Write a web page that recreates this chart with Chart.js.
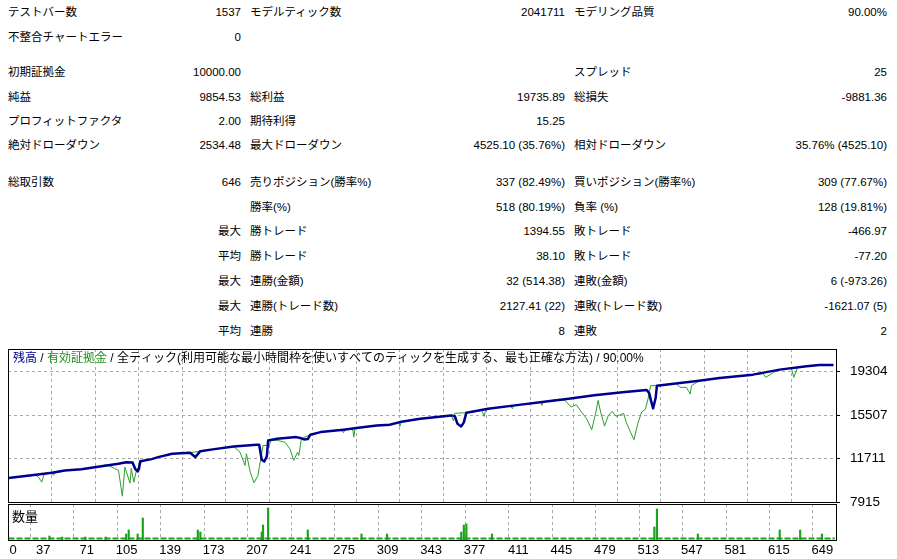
<!DOCTYPE html>
<html>
<head>
<meta charset="utf-8">
<title>Strategy Tester Report</title>
<script src="https://cdn.jsdelivr.net/npm/chart.js@4.4.1/dist/chart.umd.min.js"></script>
<style>
    body{margin:0;background:#fff;width:897px;height:559px;overflow:hidden;position:relative;
        font-family:"Liberation Sans","Noto Sans CJK JP",sans-serif;font-size:11.5px;color:#000;}
    .c{position:absolute;height:16px;line-height:16px;white-space:nowrap;}
    #main{position:absolute;left:0;top:345px;}
    #vol{position:absolute;left:0;top:503px;}
</style>
</head>
<body>
<div id="stats"></div>
<canvas id="main" width="897" height="165"></canvas>
<canvas id="vol" width="897" height="56"></canvas>
<script>
// 残高 (balance) - trade number / value
const balTrade = [3,26,37,47,60,73,89,95,100,102,104,105,106,115,120,131,145,149,153,164,
    179,197,199,201,203,205,206,213,228,231,234,237,239,247,265,275,291,301,309,325,
    349,352,354,357,359,361,378,399,425,441,461,485,502,504,505,507,509,510,528,543,
    559,585,606,627,637,648];
const balance = [10000,10315,10463,10664,10777,10987,11249,11388,11360,10810,10575,10810,11460,11650,11825,12121,12209,11825,12348,12523,
    12758,12907,12907,11600,11449,11900,13282,13431,13570,13500,13369,13400,13780,14006,14216,14356,14591,14652,14879,15176,
    15464,15400,14740,14504,14850,15699,16049,16337,16686,16921,17209,17497,17672,17400,16900,16075,17000,18056,18283,18492,
    18719,19016,19452,19740,19854,19854];

// 有効証拠金 (equity)
const eqTrade = [3,24,27,29,31,37,38,40,47,60,73,79,81,86,89,92,94,98,99,101,103,107,110,115,120,
    131,145,153,164,179,184,188,189,192,195,198,200,202,207,208,213,219,223,226,229,230,232,239,247,263,
    265,266,272,273,274,291,301,308,309,310,325,349,351,352,361,373,375,376,378,395,397,398,419,420,421,
    434,438,443,447,451,455,459,462,464,466,469,472,475,478,481,484,486,492,495,498,501,503,505,510,525,
    528,533,536,537,543,559,585,593,595,601,606,615,617,620,627,637,648];
const equity = [10000,10300,10000,9643,10380,10463,10250,10480,10664,10777,10987,11150,11100,10839,10664,8421,10952,9556,10839,9643,10664,11388,11560,11650,11825,
    12121,12209,12348,12523,12758,12261,11100,12121,10516,9591,10228,11537,12846,12846,13300,13282,13133,12558,11537,12261,11973,13431,13780,14006,14200,
    13954,14230,14330,13570,14356,14591,14652,14850,14504,14879,15176,15464,14984,15650,15699,15900,15376,15980,16049,16300,16049,16330,16640,16337,16660,
    16870,16773,16188,16397,15752,15176,14216,15612,16773,15752,14530,15464,15813,15376,15500,15638,14853,13343,14731,15752,16014,16887,18056,18056,18250,
    17907,17907,17323,18056,18492,18719,19016,19100,18780,19200,19452,19600,18780,19650,19740,19854,19854];

// 数量 (volume) spikes, relative units
const volTrade = [35,45,63,79,95,97,104,108,151,153,201,202,206,237,279,299,357,359,361,381,508,510,542,606,622,639];
const volume = [2,1.5,1.5,1.5,3,5,3,11,5,4,4,7.5,16,5,3,3,4,7.5,8,3,6.5,15.5,3,5,5,3];
const volBaseTrade = [3, 649];
const volBase = [0.75, 0.75];

const yTicks = [7915, 11711, 15507, 19304];
const xTicks = [0,37,71,105,139,173,207,241,275,309,343,377,411,445,479,513,547,581,615,649];

const stats = [
    ['テストバー数','1537','モデルティック数','2041711','モデリング品質','90.00%'],
    ['不整合チャートエラー','0','','','',''],
    ['初期証拠金','10000.00','','','スプレッド','25'],
    ['純益','9854.53','総利益','19735.89','総損失','-9881.36'],
    ['プロフィットファクタ','2.00','期待利得','15.25','',''],
    ['絶対ドローダウン','2534.48','最大ドローダウン','4525.10 (35.76%)','相対ドローダウン','35.76% (4525.10)'],
    ['総取引数','646','売りポジション(勝率%)','337 (82.49%)','買いポジション(勝率%)','309 (77.67%)'],
    ['','','勝率(%)','518 (80.19%)','負率 (%)','128 (19.81%)'],
    ['','最大','勝トレード','1394.55','敗トレード','-466.97'],
    ['','平均','勝トレード','38.10','敗トレード','-77.20'],
    ['','最大','連勝(金額)','32 (514.38)','連敗(金額)','6 (-973.26)'],
    ['','最大','連勝(トレード数)','2127.41 (22)','連敗(トレード数)','-1621.07 (5)'],
    ['','平均','連勝','8','連敗','2']
];
const rowTop = [4,29,64,89,113,137,174,199,223,248,273,298,323];
const cellPos = ['left:8px','right:656px','left:250px','right:332px','left:574px','right:10px'];

const box = document.getElementById('stats');
stats.forEach((row, r) => {
    row.forEach((txt, c) => {
        if (!txt) return;
        const d = document.createElement('div');
        d.className = 'c';
        d.style.cssText = cellPos[c] + ';top:' + rowTop[r] + 'px';
        d.textContent = txt;
        box.appendChild(d);
    });
});

const xMin = 2.6, xMax = 650;
const gridCol = '#a8a8a8';

function xAxis() {
    return {
        type: 'linear', min: xMin, max: xMax, offset: false,
        afterBuildTicks: s => { s.ticks = xTicks.filter(v => v > s.min + 1 && v < s.max - 2).map(v => ({value: v})); },
        afterFit: s => { s.height = 0; s.paddingLeft = 0; s.paddingRight = 0; },
        ticks: {display: false},
        border: {display: false, dash: [3, 3]},
        grid: {color: gridCol, lineWidth: 1, drawTicks: false}
    };
}

// horizontal grid lines and y tick marks of the main panel
const yGrid = {
    id: 'yGrid',
    beforeDatasetsDraw(chart) {
        const ctx = chart.ctx, a = chart.chartArea, sy = chart.scales.y;
        ctx.save();
        ctx.lineWidth = 1;
        ctx.strokeStyle = gridCol;
        ctx.setLineDash([3, 3]);
        ctx.beginPath();
        yTicks.forEach(v => {
            const py = Math.round(sy.getPixelForValue(v)) + 0.5;
            if (py < a.bottom - 1) {
                ctx.moveTo(a.left, py);
                ctx.lineTo(a.right, py);
            }
        });
        ctx.stroke();
        ctx.setLineDash([]);
        ctx.strokeStyle = '#000';
        ctx.beginPath();
        yTicks.forEach(v => {
            const py = Math.min(Math.round(sy.getPixelForValue(v)), Math.round(a.bottom)) + 0.5;
            ctx.moveTo(a.right, py);
            ctx.lineTo(a.right + 4, py);
        });
        ctx.stroke();
        ctx.restore();
    }
};

const frame = {
    id: 'frame',
    afterDraw(chart) {
        const a = chart.chartArea, ctx = chart.ctx;
        ctx.save();
        ctx.strokeStyle = '#000';
        ctx.lineWidth = 1;
        ctx.strokeRect(Math.round(a.left) + 0.5, Math.round(a.top) + 0.5,
            Math.round(a.right - a.left), Math.round(a.bottom - a.top));
        ctx.restore();
    }
};

const legendText = {
    id: 'legendText',
    afterDraw(chart) {
        const ctx = chart.ctx;
        let x = 13;
        ctx.save();
        ctx.font = '12px "Liberation Sans", "Noto Sans CJK JP"';
        ctx.textBaseline = 'middle';
        [['残高', '#000088'], [' / ', '#000'], ['有効証拠金', '#1f8f1f'],
         [' / 全ティック(利用可能な最小時間枠を使いすべてのティックを生成する、最も正確な方法) / 90.00%', '#000']]
        .forEach(p => {
            ctx.fillStyle = p[1];
            ctx.fillText(p[0], x, 14);
            x += ctx.measureText(p[0]).width;
        });
        ctx.restore();
    }
};

const volLabel = {
    id: 'volLabel',
    afterDraw(chart) {
        const ctx = chart.ctx;
        ctx.save();
        ctx.font = '13px "Noto Sans CJK JP"';
        ctx.textBaseline = 'middle';
        ctx.fillStyle = '#000';
        ctx.fillText('数量', 12, 13);
        ctx.restore();
    }
};

const xLabels = {
    id: 'xLabels',
    afterDraw(chart) {
        const ctx = chart.ctx, s = chart.scales.x, a = chart.chartArea;
        ctx.save();
        ctx.font = '13px "Liberation Sans"';
        ctx.textBaseline = 'middle';
        ctx.fillStyle = '#000';
        xTicks.forEach(v => {
            const px = s.getPixelForValue(v);
            if (px < a.left) {
                ctx.textAlign = 'left';
                ctx.fillText(String(v), a.left + 1.5, 47);
            } else {
                ctx.textAlign = 'right';
                ctx.fillText(String(v), px - 1.5, 47);
            }
        });
        ctx.restore();
    }
};

new Chart(document.getElementById('main'), {
    type: 'line',
    data: {
        datasets: [{
            label: '残高',
            data: balTrade.map((x, i) => ({x: x, y: balance[i]})),
            borderColor: '#000090',
            borderWidth: 2.5,
            borderJoinStyle: 'round',
            pointRadius: 0
        }, {
            label: '有効証拠金',
            data: eqTrade.map((x, i) => ({x: x, y: equity[i]})),
            borderColor: '#2a9f2a',
            borderWidth: 1,
            pointRadius: 0
        }]
    },
    options: {
        responsive: false,
        animation: false,
        layout: {padding: {left: 8, right: 0, top: 4, bottom: 8}},
        plugins: {legend: {display: false}, tooltip: {enabled: false}},
        scales: {
            x: xAxis(),
            y: {
                position: 'right', min: 7915, max: 21250,
                afterBuildTicks: s => { s.ticks = yTicks.map(v => ({value: v})); },
                afterFit: s => { s.width = 61; s.paddingTop = 0; s.paddingBottom = 0; },
                ticks: {color: '#000', padding: 6, font: {family: '"Liberation Sans"', size: 13.5},
                    callback: v => String(v)},
                border: {display: false},
                grid: {display: false}
            }
        }
    },
    plugins: [yGrid, frame, legendText]
});

new Chart(document.getElementById('vol'), {
    type: 'line',
    data: {
        datasets: [{
            type: 'bar',
            data: volTrade.map((x, i) => ({x: x, y: volume[i]})),
            backgroundColor: '#18a318',
            barThickness: 1.5,
            grouped: false
        }, {
            type: 'line',
            data: volBaseTrade.map((x, i) => ({x: x, y: volBase[i]})),
            borderColor: '#18a318',
            borderWidth: 2,
            borderDash: [6, 2],
            pointRadius: 0
        }]
    },
    options: {
        responsive: false,
        animation: false,
        layout: {padding: {left: 8, right: 61, top: 1, bottom: 19}},
        plugins: {legend: {display: false}, tooltip: {enabled: false}},
        scales: {
            x: xAxis(),
            y: {display: false, min: 0, max: 18}
        }
    },
    plugins: [frame, volLabel, xLabels]
});
</script>
</body>
</html>
